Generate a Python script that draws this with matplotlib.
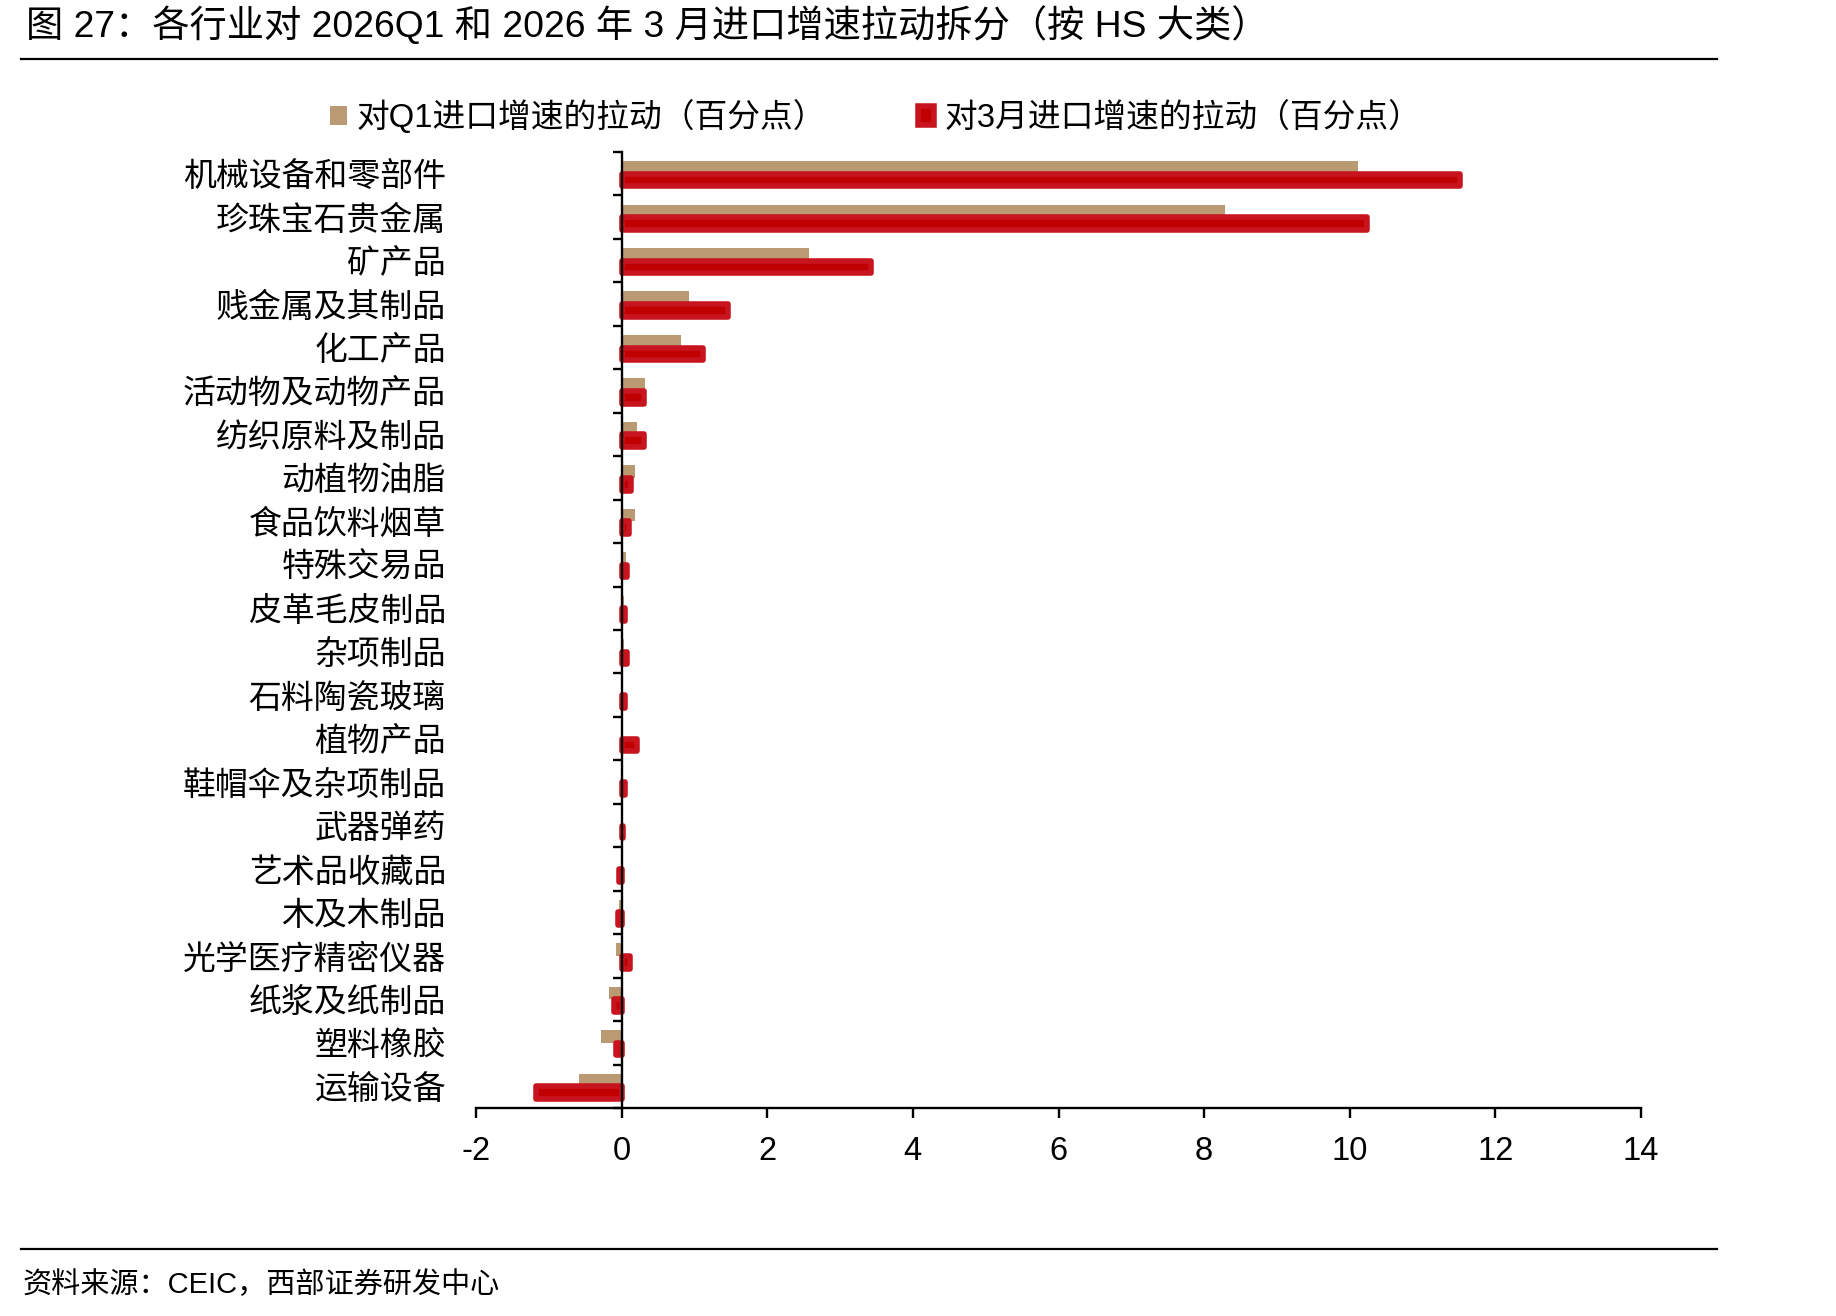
import matplotlib
matplotlib.use("Agg")
import matplotlib.pyplot as plt
import numpy as np
from matplotlib.lines import Line2D

plt.rcParams['font.family'] = ['Liberation Sans', 'Noto Sans CJK SC', 'DejaVu Sans']

categories = ["机械设备和零部件", "珍珠宝石贵金属", "矿产品", "贱金属及其制品", "化工产品",
              "活动物及动物产品", "纺织原料及制品", "动植物油脂", "食品饮料烟草", "特殊交易品",
              "皮革毛皮制品", "杂项制品", "石料陶瓷玻璃", "植物产品", "鞋帽伞及杂项制品",
              "武器弹药", "艺术品收藏品", "木及木制品", "光学医疗精密仪器", "纸浆及纸制品",
              "塑料橡胶", "运输设备"]
q1_pull = [10.12, 8.28, 2.58, 0.92, 0.81, 0.32, 0.21, 0.18, 0.18, 0.06, 0.03, 0.03, 0.01,
           0.01, 0.01, 0.0, -0.01, -0.03, -0.08, -0.17, -0.28, -0.58]
mar_pull = [11.52, 10.24, 3.42, 1.46, 1.12, 0.31, 0.31, 0.13, 0.10, 0.07, 0.05, 0.08, 0.05,
            0.21, 0.04, 0.02, -0.03, -0.05, 0.12, -0.10, -0.08, -1.17]
series_labels = ["对Q1进口增速的拉动（百分点）", "对3月进口增速的拉动（百分点）"]
xticks = [-2, 0, 2, 4, 6, 8, 10, 12, 14]

TAN = "#BA9A72"
RED_FACE = "#C00000"
RED_EDGE = "#C8141F"

W, H = 1836, 1316
fig = plt.figure(figsize=(W / 100, H / 100), dpi=100)
ax = fig.add_axes([476 / W, 1 - 1108 / H, (1641 - 476) / W, (1108 - 152) / H])

for s in ['top', 'right']:
    ax.spines[s].set_visible(False)
ax.spines['left'].set_position(('data', 0))
ax.spines['left'].set_linewidth(1.7)
ax.spines['bottom'].set_linewidth(1.7)

y = np.arange(len(categories))
h = 0.29
b1 = ax.barh(y - h / 2, q1_pull, height=h, color=TAN, linewidth=0, label=series_labels[0])
b2 = ax.barh(y + h / 2, mar_pull, height=h, color=RED_FACE, edgecolor=RED_EDGE,
             linewidth=4, joinstyle='round', label=series_labels[1])

ax.set_xlim(-2, 14)
ax.set_ylim(len(categories) - 0.5, -0.5)
ax.set_xticks(xticks)
ax.set_xticklabels([str(v) for v in xticks], fontsize=23.5)
ax.set_yticks(y)
ax.set_yticklabels(categories, fontsize=23.7, family=['Noto Sans CJK SC'])
ax.set_yticks(np.arange(len(categories) + 1) - 0.5, minor=True)

ax.tick_params(axis='y', which='major', length=0, pad=126.5)
ax.tick_params(axis='y', which='minor', length=6.5, width=1.7, direction='out')
ax.tick_params(axis='x', which='major', length=7, width=1.7, direction='out', pad=13)

fig.legend(handles=[b1, b2], labels=series_labels, loc='center',
           bbox_to_anchor=(0.477, 1 - 117 / H), ncol=2, frameon=False,
           handlelength=0.5, handleheight=0.5, handletextpad=0.3,
           columnspacing=2.8, fontsize=23.6)

fig.text(26 / W, 1 - 26 / H,
         "图 27：各行业对 2026Q1 和 2026 年 3 月进口增速拉动拆分（按 HS 大类）",
         fontsize=26.8, va='center', ha='left')
fig.add_artist(Line2D([21 / W, 1717 / W], [1 - 58.5 / H, 1 - 58.5 / H],
                      color='black', linewidth=1.6))
fig.add_artist(Line2D([21 / W, 1717 / W], [1 - 1249 / H, 1 - 1249 / H],
                      color='black', linewidth=1.6))
fig.text(23 / W, 1 - 1285 / H, "资料来源：CEIC，西部证券研发中心",
         fontsize=21, va='center', ha='left')

fig.savefig("out.png", dpi=100, facecolor='white')
